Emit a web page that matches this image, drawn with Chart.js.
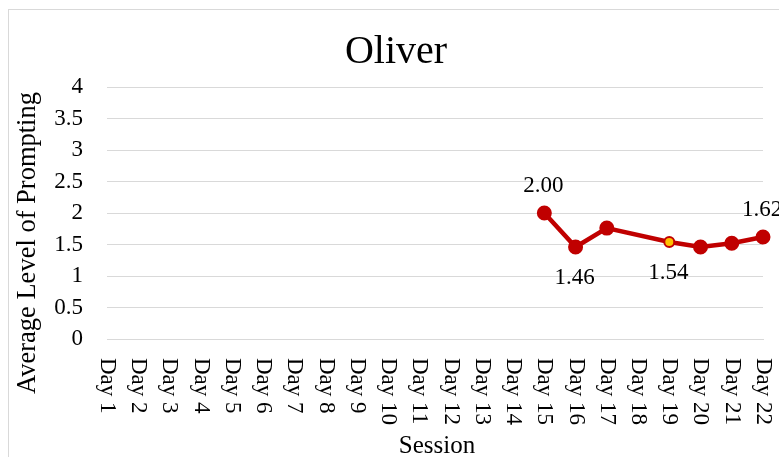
<!DOCTYPE html>
<html>
<head>
<meta charset="utf-8">
<script src="https://cdn.jsdelivr.net/npm/chart.js@4"></script>
<style>
  body { margin: 0; background: #fff; }
  #wrap { width: 779px; height: 457px; }
</style>
</head>
<body>
<div id="wrap"><canvas id="promptChart" width="779" height="457"></canvas></div>
<script>
// Sessions and average prompting level (no data on days 1-14 and day 18)
const sessions = ['Day 1', 'Day 2', 'Day 3', 'Day 4', 'Day 5', 'Day 6', 'Day 7', 'Day 8',
  'Day 9', 'Day 10', 'Day 11', 'Day 12', 'Day 13', 'Day 14', 'Day 15', 'Day 16',
  'Day 17', 'Day 18', 'Day 19', 'Day 20', 'Day 21', 'Day 22'];
const prompting = [null, null, null, null, null, null, null, null, null, null, null,
  null, null, null, 2.00, 1.46, 1.76, null, 1.54, 1.46, 1.52, 1.62];
const yTickValues = [0, 0.5, 1, 1.5, 2, 2.5, 3, 3.5, 4];
const yTickLabels = ['0', '0.5', '1', '1.5', '2', '2.5', '3', '3.5', '4'];

// which points get a value label, and on which side
const labelledDays = ['Day 15', 'Day 16', 'Day 19', 'Day 22'];
const labelSides = ['above', 'below', 'below', 'above'];
const highlightDay = 'Day 19';

const RED = '#C00000';
const GRID = '#d9d9d9';
const FONT = '"Liberation Serif", "Times New Roman", serif';

const pointFill = sessions.map(d => d === highlightDay ? '#FFC000' : RED);
const pointRadius = sessions.map(d => d === highlightDay ? 5 : 6.5);

const decorations = {
  id: 'decorations',
  beforeDraw(chart) {
    const ctx = chart.ctx;
    ctx.save();
    ctx.fillStyle = '#fff';
    ctx.fillRect(0, 0, chart.width, chart.height);
    ctx.strokeStyle = GRID;
    ctx.lineWidth = 1;
    ctx.strokeRect(8.5, 9.5, chart.width + 20, chart.height + 20);
    ctx.restore();
  },
  afterDraw(chart) {
    const ctx = chart.ctx;
    const x = chart.scales.x;
    const area = chart.chartArea;
    ctx.save();
    ctx.fillStyle = '#000';

    // title
    ctx.font = '40px ' + FONT;
    ctx.textAlign = 'center';
    ctx.textBaseline = 'alphabetic';
    ctx.fillText('Oliver', 396, 63);

    // category labels, turned clockwise to read top to bottom
    ctx.font = '23px ' + FONT;
    ctx.textAlign = 'left';
    ctx.textBaseline = 'middle';
    sessions.forEach((s, i) => {
      ctx.save();
      ctx.translate(x.getPixelForValue(i), area.bottom + 19);
      ctx.rotate(Math.PI / 2);
      ctx.fillText(s, 0, 0);
      ctx.restore();
    });

    // axis titles
    ctx.textAlign = 'center';
    ctx.font = '25px ' + FONT;
    ctx.fillText('Session', (area.left + area.right) / 2 + 2, 446);
    ctx.font = '26.5px ' + FONT;
    ctx.save();
    ctx.translate(28, 243);
    ctx.rotate(-Math.PI / 2);
    ctx.fillText('Average Level of Prompting', 0, 0);
    ctx.restore();

    // value labels
    const meta = chart.getDatasetMeta(0);
    ctx.font = '23px ' + FONT;
    labelledDays.forEach((d, k) => {
      const i = sessions.indexOf(d);
      const pt = meta.data[i];
      const dy = labelSides[k] === 'above' ? -27 : 31;
      ctx.fillText(prompting[i].toFixed(2), pt.x - 1, pt.y + dy);
    });
    ctx.restore();
  }
};

new Chart(document.getElementById('promptChart'), {
  type: 'line',
  data: {
    labels: sessions,
    datasets: [{
      data: prompting,
      borderColor: RED,
      borderWidth: 4.5,
      pointBackgroundColor: pointFill,
      pointBorderColor: RED,
      pointBorderWidth: 2,
      pointRadius: pointRadius,
      spanGaps: true,
      tension: 0,
      clip: false
    }]
  },
  options: {
    responsive: false,
    animation: false,
    layout: { padding: { left: 0, right: 16, top: 87, bottom: 0 } },
    plugins: {
      legend: { display: false },
      tooltip: { enabled: false },
      title: { display: false }
    },
    scales: {
      x: {
        offset: false,
        grid: { display: false },
        border: { display: true, color: GRID, width: 1 },
        ticks: { display: false },
        afterFit(scale) { scale.height = 118; }
      },
      y: {
        min: 0,
        max: 4,
        afterBuildTicks(scale) { scale.ticks = yTickValues.map(v => ({ value: v })); },
        grid: { color: GRID, drawTicks: false, lineWidth: 1 },
        border: { display: false },
        ticks: {
          padding: 24,
          color: '#000',
          font: { family: FONT, size: 23 },
          callback: (v, i) => yTickLabels[i]
        },
        afterFit(scale) { scale.width = 107; }
      }
    }
  },
  plugins: [decorations]
});
</script>
</body>
</html>
